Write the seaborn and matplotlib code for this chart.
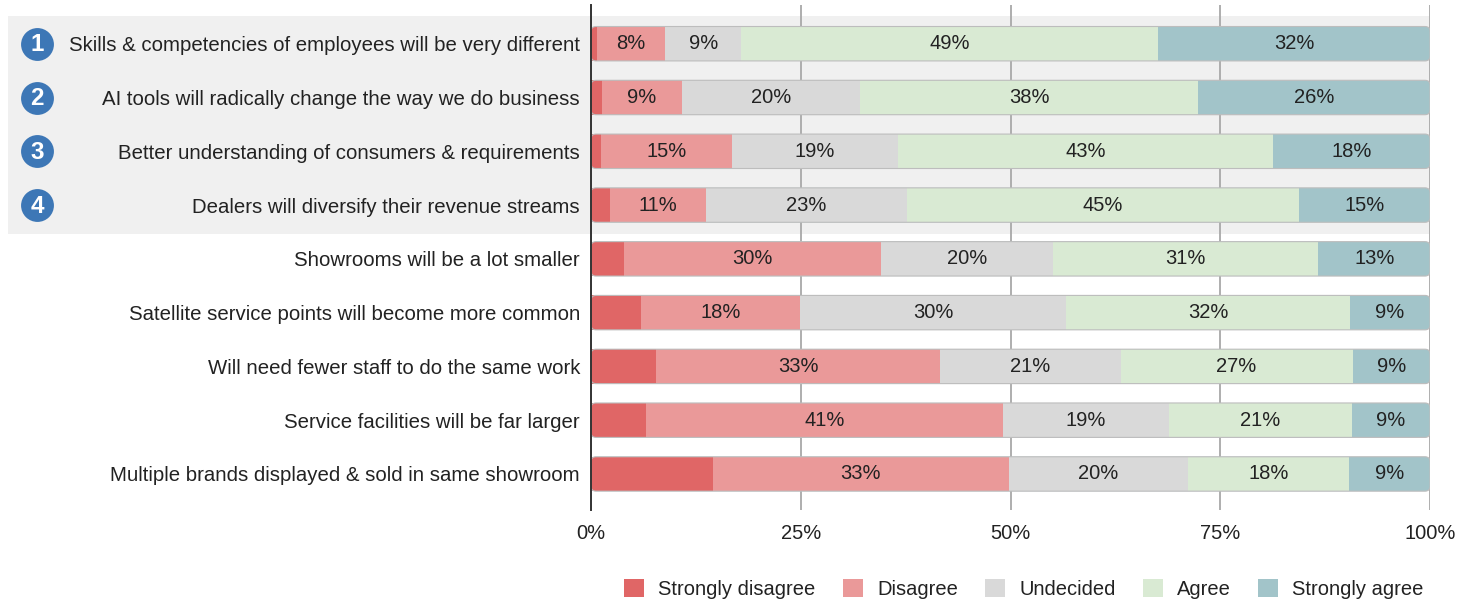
import numpy as np
import pandas as pd
import matplotlib
matplotlib.use("Agg")
import matplotlib.pyplot as plt
import matplotlib.transforms as mtransforms
from matplotlib.patches import Rectangle, Patch, FancyBboxPatch
import seaborn as sns

# Survey statements (top to bottom) and response shares in percent
statements = [
    "Skills & competencies of employees will be very different",
    "AI tools will radically change the way we do business",
    "Better understanding of consumers & requirements",
    "Dealers will diversify their revenue streams",
    "Showrooms will be a lot smaller",
    "Satellite service points will become more common",
    "Will need fewer staff to do the same work",
    "Service facilities will be far larger",
    "Multiple brands displayed & sold in same showroom",
]
strongly_disagree = [0.7, 1.2, 1.2, 2.2, 3.8, 5.6, 7.6, 6.3, 13.6]
disagree = [8, 9, 15, 11, 30, 18, 33, 41, 33]
undecided = [9, 20, 19, 23, 20, 30, 21, 19, 20]
agree = [49, 38, 43, 45, 31, 32, 27, 21, 18]
strongly_agree = [32, 26, 18, 15, 13, 9, 9, 9, 9]

responses = ["Strongly disagree", "Disagree", "Undecided", "Agree", "Strongly agree"]
colors = ["#e06666", "#ea9999", "#d9d9d9", "#d9ead3", "#a2c4c9"]
numbered_rows = 4

sns.set_style("white")
plt.rcParams["font.family"] = ["Liberation Sans", "DejaVu Sans"]
FS = 14.5
TEXT = "#222222"

raw = pd.DataFrame(
    {
        responses[0]: strongly_disagree,
        responses[1]: disagree,
        responses[2]: undecided,
        responses[3]: agree,
        responses[4]: strongly_agree,
    },
    index=statements,
)
# Each bar spans the full 0-100% range
share = raw.div(raw.sum(axis=1), axis=0) * 100
cum = share.cumsum(axis=1)

fig = plt.figure(figsize=(14.57, 6.0), dpi=100)
ax = fig.add_axes([591 / 1457, 0.15, (1430 - 591) / 1457, 0.99167 - 0.15])
ax.patch.set_alpha(0)

BAR_H = 0.64
YLIM = (8.67, -0.72)
# Corner radius in x data units and the y/x data-per-pixel ratio
px_x = 100 / ax.get_position().width / fig.bbox.width
px_y = (YLIM[0] - YLIM[1]) / ax.get_position().height / fig.bbox.height
ROUND = 5 * px_x
ASPECT = px_y / px_x

# Stack by overdrawing cumulative totals, outermost first
for k, (resp, col) in enumerate(reversed(list(zip(responses, colors)))):
    before = len(ax.patches)
    sns.barplot(
        x=cum[resp].values, y=statements, orient="h", color=col, saturation=1,
        width=BAR_H, linewidth=0, ax=ax, zorder=2,
    )
    if k == 0:
        # Full-length bars get rounded ends and a thin outline
        for bar in list(ax.patches[before:]):
            x0, y0 = bar.get_x(), bar.get_y()
            w, h = bar.get_width(), bar.get_height()
            bar.set_visible(False)
            for fill, ec, z in [(True, "none", 1.9), (False, "#bdbdbd", 3)]:
                ax.add_patch(FancyBboxPatch(
                    (x0, y0), w, h,
                    boxstyle=f"round,pad=0,rounding_size={ROUND}",
                    mutation_aspect=ASPECT, facecolor=col if fill else "none",
                    fill=fill, edgecolor=ec, linewidth=0.8, zorder=z))

# Value labels on all but the first segment
for i, stmt in enumerate(statements):
    for j in range(1, len(responses)):
        left = cum.iloc[i, j - 1]
        mid = left + share.iloc[i, j] / 2
        ax.text(mid, i, f"{raw.iloc[i, j]:g}%", ha="center", va="center",
                fontsize=FS, color=TEXT, zorder=4)

ax.set_xlim(0, 100)
ax.set_ylim(*YLIM)
ax.set_xticks([0, 25, 50, 75, 100])
ax.set_xticklabels(["0%", "25%", "50%", "75%", "100%"])
ax.set_xlabel("")
ax.set_ylabel("")
ax.tick_params(axis="both", length=0, labelsize=FS, colors=TEXT)
ax.tick_params(axis="y", labelsize=14.65)
ax.tick_params(axis="x", pad=10)
ax.tick_params(axis="y", pad=8)
ax.xaxis.grid(True, color="#a8a8a8", linewidth=1.3, zorder=1)
ax.set_axisbelow(True)
for side in ["top", "right", "bottom"]:
    ax.spines[side].set_visible(False)
ax.spines["left"].set_color("#333333")
ax.spines["left"].set_linewidth(1.4)
ax.spines["left"].set_zorder(5)

# Shaded band behind the numbered statements
band_tr = mtransforms.blended_transform_factory(fig.transFigure, ax.transData)
ax.add_patch(Rectangle((8 / 1457, -0.515), (1430 - 8) / 1457, 4.055,
                       transform=band_tr, facecolor="#f0f0f0", edgecolor="none",
                       zorder=0, clip_on=False))

# Numbered badges
for i in range(numbered_rows):
    ax.scatter([37 / 1457], [i], s=560, color="#3d77b6", transform=band_tr,
               clip_on=False, zorder=6, linewidths=0)
    ax.text(37 / 1457, i + 0.02, str(i + 1), transform=band_tr, ha="center",
            va="center", color="white", fontsize=FS + 3, fontweight="bold",
            zorder=7)

handles = [Patch(facecolor=c, edgecolor="none") for c in colors]
fig.legend(handles, responses, loc="center", bbox_to_anchor=(1024 / 1457, 1 - 589 / 600),
           ncol=5, frameon=False, fontsize=FS, handlelength=1.0, handleheight=1.0,
           handletextpad=0.7, columnspacing=1.35, labelcolor=TEXT)

fig.savefig("out.png", dpi=100)
